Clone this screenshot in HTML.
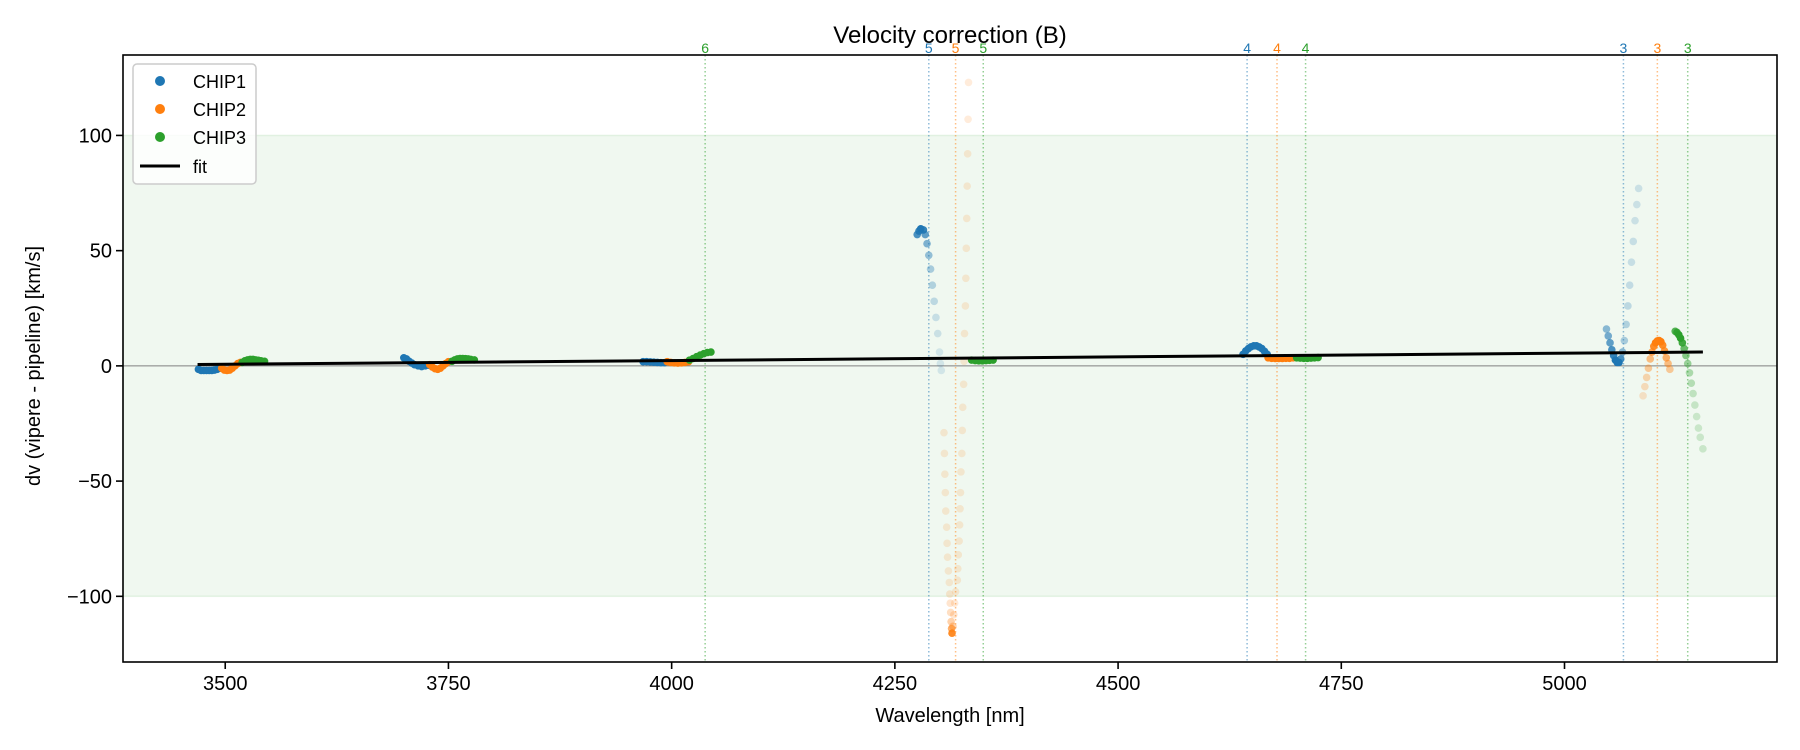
<!DOCTYPE html>
<html><head><meta charset="utf-8">
<style>
html,body{margin:0;padding:0;background:#fff;}
svg{display:block;font-family:"Liberation Sans","DejaVu Sans",sans-serif;}
</style></head>
<body>
<svg id="chart" width="1800" height="750" viewBox="0 0 1800 750" xmlns="http://www.w3.org/2000/svg">
<rect x="0" y="0" width="1800" height="750" fill="#fff"/>
<g id="plot"></g>
<text x="950" y="43" text-anchor="middle" font-size="24" fill="#000">Velocity correction (B)</text>
<text x="950" y="722" text-anchor="middle" font-size="20" fill="#000">Wavelength [nm]</text>
<text x="0" y="0" transform="translate(40,366) rotate(-90)" text-anchor="middle" font-size="20" fill="#000">dv (vipere - pipeline) [km/s]</text>
</svg>
<script>
// ---- data ----
const xTicks = [3500, 3750, 4000, 4250, 4500, 4750, 5000];
const yTicks = [100, 50, 0, -50, -100];
const yTickLabels = ["100", "50", "0", "\u221250", "\u2212100"];
const seriesNames = ["CHIP1", "CHIP2", "CHIP3"];
const seriesColors = ["#1f77b4", "#ff7f0e", "#2ca02c"];
// points: [wavelength, dv, weight]
const chip1 = [
 [3470,-1.5,1],[3473,-2,1],[3476,-2,1],[3479,-2,1],[3482,-2,1],[3485,-2,1],[3488,-1.8,1],[3491,-1.5,1],[3494,-1,1],
 [3700,3.5,1],[3703,3,1],[3706,2,1],[3709,1.2,1],[3712,0.5,1],[3716,0,1],[3720,-0.3,1],[3724,0,1],[3728,0.3,1],
 [3968,1.8,1],[3972,1.8,1],[3976,1.7,1],[3980,1.6,1],[3984,1.5,1],[3988,1.4,1],[3992,1.4,1],
 [4275,57,0.8],[4277,58.5,0.9],[4279,59.5,1],[4282,59,0.9],[4284,57,0.7],[4286,53,0.55],[4288,48,0.45],[4290,42,0.35],[4292,35,0.3],[4294,28,0.25],[4296,21,0.2],[4298,14,0.18],[4300,6,0.15],[4301,1,0.15],[4302,-2,0.15],
 [4640,5,1],[4643,6.5,1],[4646,7.5,1],[4649,8.3,1],[4652,8.7,1],[4655,8.7,1],[4658,8.2,1],[4661,7.5,1],[4664,6.3,1],[4667,5,1],
 [5047,16,0.5],[5049,13,0.6],[5051,10,0.7],[5053,7,0.8],[5055,4.5,0.9],[5057,2.5,1],[5059,1.5,1],[5061,1.5,1],[5063,3,0.8],[5065,6,0.5],[5067,11,0.35],[5069,18,0.3],[5071,26,0.25],[5073,35,0.22],[5075,45,0.2],[5077,54,0.2],[5079,63,0.18],[5081,70,0.18],[5083,77,0.18]
];
const chip2 = [
 [3496,-1,1],[3499,-1.8,1],[3502,-2,1],[3505,-1.8,1],[3508,-1,1],[3511,0,1],[3514,1,1],[3517,1.5,1],
 [3729,0.5,1],[3732,-0.5,1],[3735,-1.2,1],[3738,-1.5,1],[3741,-1,1],[3744,0,1],[3747,1,1],[3750,1.8,1],
 [3995,1.8,1],[3999,1.5,1],[4003,1.3,1],[4007,1.2,1],[4011,1.3,1],[4015,1.5,1],[4019,1.8,1],
 [4305,-29,0.15],[4305.5,-38,0.15],[4306,-47,0.15],[4306.5,-55,0.15],[4307,-63,0.15],[4308,-70,0.15],[4308.5,-77,0.15],[4309,-83,0.15],[4310,-89,0.15],[4311,-94,0.15],[4311.5,-99,0.17],[4312,-103,0.2],[4312.5,-107,0.25],[4313,-111,0.35],[4313.5,-114,0.6],[4314,-116,0.9],
 [4315,-113,0.35],[4316,-108,0.2],[4317,-103,0.16],[4318,-98,0.15],[4320,-93,0.15],[4320.5,-88,0.15],[4321,-82,0.15],[4322,-76,0.15],[4322.5,-69,0.15],[4323,-62,0.15],[4323.5,-55,0.15],[4324,-46,0.15],[4325,-38,0.15],[4325.5,-28,0.15],[4326,-18,0.15],[4327,-8,0.15],[4327.5,2,0.15],[4328,14,0.15],[4329,26,0.15],[4329.5,38,0.15],[4330,51,0.15],[4330.5,64,0.15],[4331,78,0.15],[4331.5,92,0.15],[4332,107,0.15],[4332.5,123,0.15],
 [4668,3.5,1],[4672,3.3,1],[4676,3.2,1],[4680,3.2,1],[4684,3.2,1],[4688,3.3,1],[4692,3.3,1],[4696,3.5,1],
 [5088,-13,0.2],[5090,-9,0.25],[5092,-5,0.3],[5094,-1,0.4],[5096,3,0.5],[5098,6,0.7],[5100,8.5,0.9],[5102,10,1],[5104,10.8,1],[5106,11,1],[5108,10.5,1],[5110,9,0.9],[5112,6.5,0.8],[5114,3.5,0.6],[5116,1,0.5],[5118,-1.5,0.4]
];
const chip3 = [
 [3519,1.5,1],[3522,2.2,1],[3525,2.6,1],[3528,2.8,1],[3531,2.8,1],[3534,2.6,1],[3537,2.4,1],[3540,2.2,1],[3544,2,1],
 [3754,2,1],[3757,2.6,1],[3760,3,1],[3763,3.2,1],[3766,3.2,1],[3769,3.1,1],[3772,3,1],[3775,2.8,1],[3779,2.6,1],
 [4020,2.5,1],[4024,3.2,1],[4028,4,1],[4032,4.7,1],[4036,5.3,1],[4040,5.8,1],[4044,6,1],
 [4336,2.5,1],[4340,2.3,1],[4344,2.2,1],[4348,2.2,1],[4352,2.3,1],[4356,2.4,1],[4360,2.5,1],
 [4700,3.5,1],[4704,3.4,1],[4708,3.3,1],[4712,3.3,1],[4716,3.4,1],[4720,3.5,1],[4724,3.6,1],
 [5124,15,0.8],[5126,14.5,0.9],[5128,13.5,1],[5130,12,1],[5132,10,0.9],[5134,7.5,0.7],[5136,4.5,0.55],[5138,1,0.45],[5140,-3,0.35],[5142,-7.5,0.3],[5144,-12,0.25],[5146,-17,0.22],[5148,-22,0.2],[5150,-27,0.2],[5152,-31,0.2],[5155,-36,0.2]
];
// vertical marker lines: wavelength, series index, label
const vlineX = [4288, 4318, 4349, 4037.5, 4644.5, 4678, 4710, 5066, 5104, 5138];
const vlineSeries = [0, 1, 2, 2, 0, 1, 2, 0, 1, 2];
const vlineLabels = ["5", "5", "5", "6", "4", "4", "4", "3", "3", "3"];
const fitRange = [3469, 5155];
const fitValues = [0.6, 6.0];
const bandRange = [-100, 100];

// ---- axes ----
const L = 123, R = 1777, T = 55, B = 662;
const xMin = 3385.5, xMax = 5238, yMin = -128.5, yMax = 134.9;
const NS = "http://www.w3.org/2000/svg";
function xs(v) { return L + (v - xMin) / (xMax - xMin) * (R - L); }
function ys(v) { return B - (v - yMin) / (yMax - yMin) * (B - T); }
const svg = document.getElementById('chart');
const plot = document.getElementById('plot');
function mk(tag, attrs, parent) {
  const e = document.createElementNS(NS, tag);
  for (const k in attrs) e.setAttribute(k, attrs[k]);
  (parent || plot).appendChild(e);
  return e;
}

// band
let band = mk('rect', {x: L, y: ys(bandRange[1]), width: R - L, height: ys(bandRange[0]) - ys(bandRange[1]), fill: '#2ca02c', 'fill-opacity': 0.07, stroke: '#2ca02c', 'stroke-opacity': 0.1, 'stroke-width': 1.5});



// zero line
let zl = mk('line', {x1: L, x2: R, y1: ys(0), y2: ys(0), stroke: '#808080', 'stroke-width': 1});



// vertical lines + labels
for (let i = 0; i < vlineX.length; i++) {
  const x = xs(vlineX[i]);
  const c = seriesColors[vlineSeries[i]];
  let vl = mk('line', {x1: x, x2: x, y1: T, y2: B, stroke: c, 'stroke-opacity': 0.5, 'stroke-width': 1.5, 'stroke-dasharray': '1.5,2.5'});
  
  
  let vt = mk('text', {x: x, y: 53, 'text-anchor': 'middle', 'font-size': 14, fill: c}, svg);
  vt.textContent = vlineLabels[i];
  
  
}

// points
const allSeries = [chip1, chip2, chip3];
for (let s = 0; s < allSeries.length; s++) {
  const g = mk('g', {});
  
  
  for (const p of allSeries[s]) {
    let c = mk('circle', {cx: xs(p[0]), cy: ys(p[1]), r: 3.8, fill: seriesColors[s], 'fill-opacity': p[2]}, g);
    
    
  }
}

// fit line
let fl = mk('line', {x1: xs(fitRange[0]), y1: ys(fitValues[0]), x2: xs(fitRange[1]), y2: ys(fitValues[1]), stroke: '#000', 'stroke-width': 3});



// frame
let fr = mk('rect', {x: L, y: T, width: R - L, height: B - T, fill: 'none', stroke: '#000', 'stroke-width': 1.6});



// ticks
for (const t of xTicks) {
  const x = xs(t);
  let tl = mk('line', {x1: x, x2: x, y1: B, y2: B + 7, stroke: '#000', 'stroke-width': 1.6}, svg);
  
  
  let tt = mk('text', {x: x, y: B + 28, 'text-anchor': 'middle', 'font-size': 20, fill: '#000'}, svg);
  tt.textContent = String(t);
  
  
}
for (let i = 0; i < yTicks.length; i++) {
  const y = ys(yTicks[i]);
  let tl = mk('line', {x1: L - 7, x2: L, y1: y, y2: y, stroke: '#000', 'stroke-width': 1.6}, svg);
  
  
  let tt = mk('text', {x: L - 11, y: y + 7, 'text-anchor': 'end', 'font-size': 20, fill: '#000'}, svg);
  tt.textContent = yTickLabels[i];
  
  
}

// legend
const lg = mk('g', {}, svg);


let lb = mk('rect', {x: 133, y: 64, width: 123, height: 120, rx: 4, fill: '#fff', 'fill-opacity': 0.8, stroke: '#ccc', 'stroke-width': 1.5}, lg);


const legendY = [81, 109, 137, 166];
for (let i = 0; i < 3; i++) {
  let m = mk('circle', {cx: 160, cy: legendY[i], r: 5, fill: seriesColors[i]}, lg);
  
  
  let t = mk('text', {x: 193, y: legendY[i] + 7, 'font-size': 18, fill: '#000'}, lg);
  t.textContent = seriesNames[i];
  
  
}
let lfl = mk('line', {x1: 140, x2: 180, y1: legendY[3], y2: legendY[3], stroke: '#000', 'stroke-width': 3}, lg);


let lft = mk('text', {x: 193, y: legendY[3] + 7, 'font-size': 18, fill: '#000'}, lg);
lft.textContent = 'fit';


</script>
</body></html>
